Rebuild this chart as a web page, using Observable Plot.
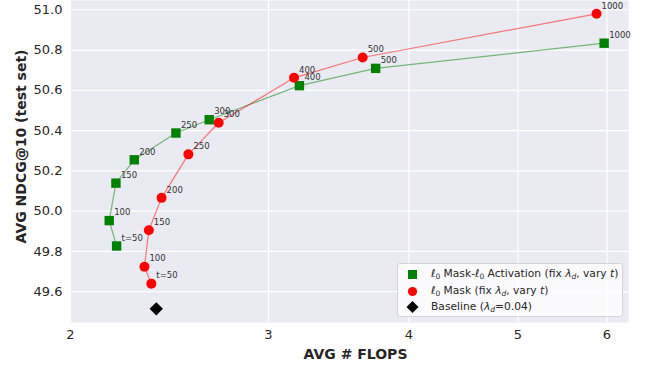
<!DOCTYPE html>
<html>
<head>
<meta charset="utf-8">
<script src="https://cdn.jsdelivr.net/npm/d3@7"></script>
<script src="https://cdn.jsdelivr.net/npm/@observablehq/plot@0.6"></script>
<style>
  html, body { margin: 0; padding: 0; background: #fff; }
  #wrap { position: relative; width: 650px; height: 368px; font-family: "DejaVu Sans", sans-serif; }
  #legend {
    position: absolute; left: 397px; top: 263px; width: 226px; height: 54px;
    box-sizing: border-box; background: rgba(255,255,255,0.8); border: 1px solid #d4d4d8;
    border-radius: 3px; font-size: 10.7px; color: #262626;
  }
  .row { position: absolute; left: 0; height: 16px; line-height: 16px; white-space: nowrap; }
  .row .txt { position: absolute; left: 33px; top: 0; }
  .row svg { position: absolute; left: 5px; top: 0; }
  sub { font-size: 7.5px; vertical-align: -2px; line-height: 0; }
</style>
</head>
<body>
<div id="wrap"></div>
<script>
// Data
const tLabels = ["t=50", "100", "150", "200", "250", "300", "400", "500", "1000"];
const actFlops = [2.198, 2.165, 2.195, 2.279, 2.482, 2.657, 3.196, 3.736, 5.965];
const actNdcg  = [49.827, 49.953, 50.139, 50.255, 50.388, 50.454, 50.623, 50.709, 50.834];
const maskFlops = [2.360, 2.327, 2.348, 2.410, 2.546, 2.709, 3.161, 3.638, 5.873];
const maskNdcg  = [49.640, 49.724, 49.905, 50.066, 50.282, 50.439, 50.662, 50.763, 50.980];
const baseFlops = [2.384];
const baseNdcg  = [49.515];
const xTicks = [2, 3, 4, 5, 6];
const yTicks = [49.6, 49.8, 50.0, 50.2, 50.4, 50.6, 50.8, 51.0];

const act = tLabels.map((t, i) => ({t, x: actFlops[i], y: actNdcg[i]}));
const mask = tLabels.map((t, i) => ({t, x: maskFlops[i], y: maskNdcg[i]}));
const base = baseFlops.map((x, i) => ({x, y: baseNdcg[i]}));

const chart = Plot.plot({
  width: 650, height: 368,
  marginLeft: 70, marginRight: 22, marginTop: 0, marginBottom: 46,
  style: { fontFamily: "DejaVu Sans, sans-serif", fontSize: "13px", color: "#262626", background: "#fff" },
  x: { type: "log", domain: [2.0, 6.27] },
  y: { domain: [49.447, 51.046] },
  marks: [
    Plot.frame({ fill: "#EAEAF2", stroke: null }),
    Plot.gridX(xTicks, { stroke: "#fff", strokeOpacity: 1, strokeWidth: 1.2 }),
    Plot.gridY(yTicks, { stroke: "#fff", strokeOpacity: 1, strokeWidth: 1.2 }),
    Plot.axisX(xTicks, { tickSize: 0, tickPadding: 7, tickFormat: d => String(d), fontSize: 13,
      label: "AVG # FLOPS", labelAnchor: "center", labelArrow: "none", labelOffset: 36 }),
    Plot.axisY(yTicks, { tickSize: 0, tickPadding: 8, tickFormat: d3.format(".1f"), fontSize: 13,
      label: "AVG NDCG@10 (test set)", labelAnchor: "center", labelArrow: "none", labelOffset: 54 }),
    Plot.line(act, { x: "x", y: "y", stroke: "green", strokeOpacity: 0.5, strokeWidth: 1.2 }),
    Plot.dot(act, { x: "x", y: "y", symbol: "square", r: 5.3, fill: "#008000", stroke: null }),
    Plot.text(act, { x: "x", y: "y", text: "t", dx: 5, dy: -8, textAnchor: "start", fontSize: 8.5, fill: "#333" }),
    Plot.line(mask, { x: "x", y: "y", stroke: "red", strokeOpacity: 0.5, strokeWidth: 1.2 }),
    Plot.dot(mask, { x: "x", y: "y", symbol: "circle", r: 5, fill: "#ff0000", stroke: null }),
    Plot.text(mask, { x: "x", y: "y", text: "t", dx: 5, dy: -8, textAnchor: "start", fontSize: 8.5, fill: "#333" }),
    Plot.dot(base, { x: "x", y: "y", symbol: "diamond2", r: 6, fill: "#000", stroke: null })
  ]
});
const svg = d3.select(chart);
svg.selectAll("[aria-label='x-axis label'] text, [aria-label='y-axis label'] text")
  .style("font-weight", "bold").style("font-size", "14px").style("fill", "#262626");
function shift(sel, dx, dy) {
  const g = svg.select(sel);
  if (!g.empty()) g.attr("transform", `translate(${dx},${dy}) ` + (g.attr("transform") || ""));
}
shift("[aria-label='y-axis label']", 0, -15);
shift("[aria-label='x-axis label']", 6, 0);
const wrap = document.getElementById("wrap");
wrap.appendChild(chart);

const legend = document.createElement("div");
legend.id = "legend";
legend.innerHTML = `
  <div class="row" style="top:2px"><svg width="20" height="16"><rect x="5" y="4" width="9" height="9" fill="#008000"/></svg>
    <span class="txt">ℓ<sub>0</sub> Mask-ℓ<sub>0</sub> Activation (fix <i>λ</i><sub><i>d</i></sub>, vary <i>t</i>)</span></div>
  <div class="row" style="top:18.5px"><svg width="20" height="16"><circle cx="9.5" cy="8.5" r="4.6" fill="#ff0000"/></svg>
    <span class="txt">ℓ<sub>0</sub> Mask (fix <i>λ</i><sub><i>d</i></sub>, vary <i>t</i>)</span></div>
  <div class="row" style="top:35px"><svg width="20" height="16"><path d="M9.5,2 L15.5,8 L9.5,14 L3.5,8 Z" fill="#000"/></svg>
    <span class="txt">Baseline (<i>λ</i><sub><i>d</i></sub>=0.04)</span></div>`;
wrap.appendChild(legend);
</script>
</body>
</html>
